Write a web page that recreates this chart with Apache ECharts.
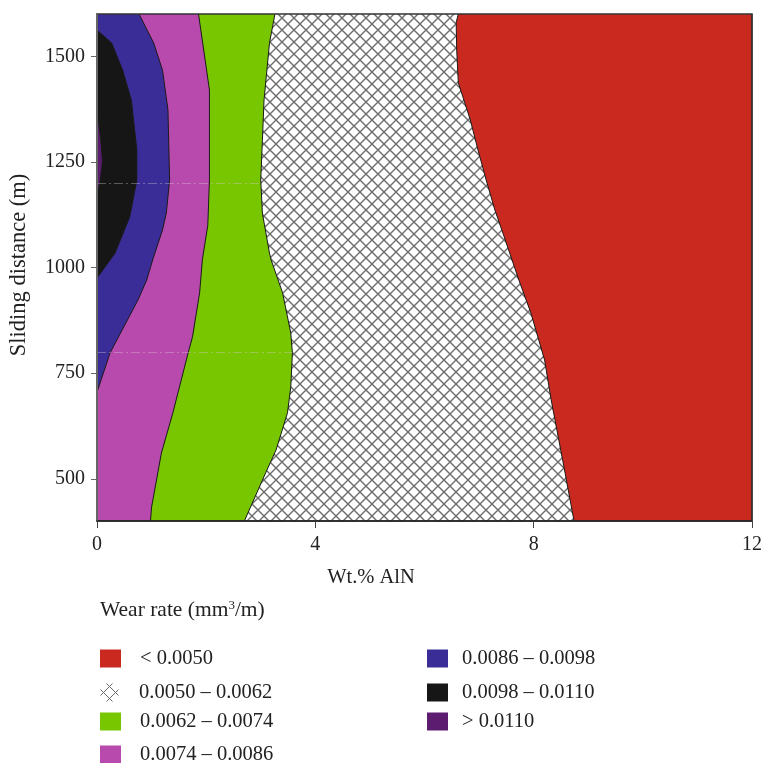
<!DOCTYPE html>
<html>
<head>
<meta charset="utf-8">
<script src="https://cdn.jsdelivr.net/npm/echarts@6/dist/echarts.min.js"></script>
<style>html,body{margin:0;padding:0;background:#fff}#c{width:765px;height:763px}</style>
</head>
<body>
<div id="c"></div>
<script>
// ---- data ----
const xTicks = [0, 4, 8, 12];
const yTicks = [500, 750, 1000, 1250, 1500];
const levelNames = ['< 0.0050', '0.0050 – 0.0062', '0.0062 – 0.0074', '0.0074 – 0.0086', '0.0086 – 0.0098', '0.0098 – 0.0110', '> 0.0110'];
// contour boundaries: [sliding distance (m), wt.% AlN]; each level fills the region left of its boundary
const edgeBelow0050 = [[400, 12], [1600, 12]];
const edge0050 = [[400, 8.74], [545, 8.53], [687, 8.32], [781, 8.2], [892, 7.95], [970, 7.73], [1065, 7.48], [1136, 7.29], [1207, 7.13], [1278, 6.98], [1349, 6.84], [1437, 6.62], [1515, 6.59], [1580, 6.58], [1600, 6.62]];
const edge0062 = [[400, 2.7], [514, 3.09], [568, 3.28], [656, 3.49], [717, 3.55], [798, 3.58], [845, 3.55], [940, 3.4], [1018, 3.19], [1034, 3.16], [1129, 3.03], [1207, 3.0], [1300, 3.03], [1396, 3.06], [1531, 3.16], [1600, 3.26]];
const edge0074 = [[400, 0.98], [433, 1.0], [561, 1.18], [656, 1.39], [793, 1.66], [836, 1.75], [940, 1.88], [1018, 1.93], [1100, 2.03], [1207, 2.06], [1420, 2.06], [1600, 1.86]];
const edge0086 = [[705, 0], [798, 0.24], [923, 0.75], [970, 0.91], [1018, 1.02], [1089, 1.2], [1129, 1.27], [1207, 1.33], [1373, 1.3], [1467, 1.2], [1531, 1.04], [1600, 0.77]];
const edge0098 = [[975, 0], [1034, 0.33], [1120, 0.6], [1207, 0.73], [1278, 0.73], [1396, 0.63], [1467, 0.47], [1531, 0.27], [1562, 0]];
const edge0110 = [[1167, 0], [1207, 0.06], [1250, 0.1], [1300, 0.07], [1373, 0]];
const edges = [edgeBelow0050, edge0050, edge0062, edge0074, edge0086, edge0098, edge0110];
// faint dash-dot artefact lines in the original, running from 0 wt.% to the 0.0062 boundary
const artefactDistances = [800, 1200];

// ---- styles ----
function hatch() {
  const s = 12;
  const c = document.createElement('canvas');
  c.width = s; c.height = s;
  const g = c.getContext('2d');
  g.fillStyle = '#fff'; g.fillRect(0, 0, s, s);
  g.strokeStyle = '#6c6c6c'; g.lineWidth = 1.4;
  g.beginPath();
  g.moveTo(-1, -1); g.lineTo(s + 1, s + 1);
  g.moveTo(s + 1, -1); g.lineTo(-1, s + 1);
  g.stroke();
  return c;
}
const fills = ['#C9291E', {image: hatch(), repeat: 'repeat'}, '#78C600', '#B84AAD', '#3A2D97', '#161616', '#5C1D70'];
const legendColors = ['#C9291E', 'transparent', '#78C600', '#B84AAD', '#3A2D97', '#161616', '#5C1D70'];
const font = 'Liberation Serif';

function interpX(edge, d) {
  for (let k = 0; k < edge.length - 1; k++) {
    const a = edge[k], b = edge[k + 1];
    if (d >= a[0] && d <= b[0]) return a[1] + (b[1] - a[1]) * (d - a[0]) / (b[0] - a[0]);
  }
  return edge[edge.length - 1][1];
}

const series = edges.map((edge, i) => ({
  type: 'custom',
  name: levelNames[i],
  coordinateSystem: 'cartesian2d',
  itemStyle: {color: legendColors[i]},
  data: [[edge[0][1], edge[0][0]]],
  silent: true,
  z: 2 + i,
  renderItem: function (params, api) {
    const line = edge.map(p => api.coord([p[1], p[0]]));
    const first = edge[0], last = edge[edge.length - 1];
    const poly = line.concat([api.coord([0, last[0]]), api.coord([0, first[0]])]);
    return {
      type: 'group',
      children: [
        {type: 'polygon', shape: {points: poly}, style: {fill: fills[i], stroke: null}},
        {type: 'polyline', shape: {points: line}, style: {fill: null, stroke: '#1a1a1a', lineWidth: 1}}
      ]
    };
  }
}));
series.push({
  type: 'lines', coordinateSystem: 'cartesian2d', silent: true, z: 12,
  lineStyle: {color: 'rgba(215,200,210,0.75)', width: 1, type: [9, 3, 2, 3]},
  data: artefactDistances.map(d => ({coords: [[0, d], [interpX(edge0062, d), d]]}))
});

const legendPos = [[100, 648, 14], [100, 682, 14], [100, 711, 14], [100, 744, 14], [427, 648, 9], [427, 682, 9], [427, 711, 9]];
const legends = levelNames.map((n, i) => ({
  left: legendPos[i][0], top: legendPos[i][1], padding: 0,
  itemWidth: 21, itemHeight: 18, selectedMode: false,
  textStyle: {fontFamily: font, fontSize: 20.5, color: '#222', padding: [0, 0, 0, legendPos[i][2]]},
  data: [i === 1 ? {name: n, icon: 'path://M0,6 L12,18 M6,0 L18,12 M0,12 L12,0 M6,18 L18,6', itemStyle: {color: 'transparent', borderColor: '#6c6c6c', borderWidth: 1}} : {name: n, icon: 'rect'}]
}));

const chart = echarts.init(document.getElementById('c'), null, {renderer: 'canvas'});
chart.setOption({
  animation: false,
  backgroundColor: '#fff',
  grid: {left: 97, right: 10, top: 14, bottom: 242, show: true, borderColor: '#333', borderWidth: 1.5, z: 20},
  xAxis: {
    type: 'value', min: 0, max: 12, interval: 4,
    axisLine: {show: true, onZero: false, lineStyle: {color: '#222', width: 1.5}},
    axisTick: {show: true, inside: false, length: 7, lineStyle: {color: '#444'}, customValues: xTicks},
    axisLabel: {fontFamily: font, fontSize: 20, color: '#222', margin: 14, customValues: xTicks},
    splitLine: {show: false}, z: 30
  },
  yAxis: {
    type: 'value', min: 400, max: 1600,
    axisLine: {show: true, onZero: false, lineStyle: {color: '#666', width: 2}},
    axisTick: {show: true, inside: false, length: 6, lineStyle: {color: '#666'}, customValues: yTicks},
    axisLabel: {fontFamily: font, fontSize: 20, color: '#222', margin: 12, customValues: yTicks, formatter: v => String(v)},
    splitLine: {show: false}, z: 30
  },
  legend: legends,
  graphic: [
    {type: 'text', x: 100, y: 610, style: {
      text: 'Wear rate (mm{sup|3}/m)', font: '21.5px "Liberation Serif"', fill: '#222', verticalAlign: 'middle',
      rich: {sup: {fontSize: 13, fontFamily: font, fill: '#222', verticalAlign: 'top', padding: [0, 0, 9, 0]}}
    }},
    {type: 'text', x: 371, y: 578, style: {text: 'Wt.% AlN', font: '20.5px "Liberation Serif"', fill: '#222', align: 'center', verticalAlign: 'middle'}},
    {type: 'text', x: 19, y: 265, rotation: Math.PI / 2, style: {text: 'Sliding distance (m)', font: '22.5px "Liberation Serif"', fill: '#222', align: 'center', verticalAlign: 'middle'}}
  ],
  series: series
});
</script>
</body>
</html>
